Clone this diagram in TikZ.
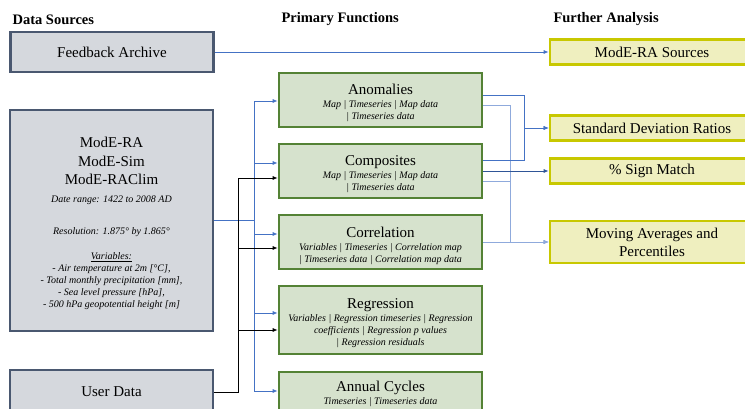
\documentclass[tikz,border=0pt]{standalone}
\usepackage{fontspec}
\setmainfont{Liberation Serif}
\usepackage{tikz}
\usetikzlibrary{arrows.meta,calc}

\definecolor{srcfill}{HTML}{D5D8DD}
\definecolor{srcline}{HTML}{4A5870}
\definecolor{fnfill}{HTML}{D6E2CD}
\definecolor{fnline}{HTML}{548235}
\definecolor{anfill}{HTML}{EFEFBF}
\definecolor{anline}{HTML}{C8C800}
\definecolor{arrblue}{HTML}{4472C4}
\definecolor{arrlight}{HTML}{8FAADC}
\definecolor{arrdark}{HTML}{2F5597}

\newcommand{\fntitle}[1]{{\upshape\fontsize{15}{18}\selectfont #1}}
\newcommand{\mdinfo}[1]{{\fontsize{10}{12}\selectfont\itshape #1}}
\newcommand{\toppad}[1]{\rule{0pt}{#1}}

\begin{document}
\begin{tikzpicture}[x=1pt,y=-1pt,
    header/.style={anchor=west,font=\bfseries\fontsize{14.5}{17}\selectfont},
    srcbox/.style={draw=srcline,fill=srcfill,line width=2.6pt,minimum width=203pt,align=center,font=\fontsize{15}{18}\selectfont},
    funcbox/.style={draw=fnline,fill=fnfill,line width=2.6pt,minimum width=203pt,align=center,inner sep=2pt,font=\fontsize{10}{12}\selectfont\itshape},
    anbox/.style={draw=anline,fill=anfill,line width=2.6pt,minimum width=204pt,align=center,font=\fontsize{15}{18}\selectfont},
    bluearr/.style={draw=arrblue,line width=0.8pt,-{Latex[length=5pt,width=4pt]}},
    lightarr/.style={draw=arrlight,line width=0.8pt,-{Latex[length=5pt,width=4pt]}},
    darkarr/.style={draw=arrdark,line width=0.8pt,-{Latex[length=5pt,width=4pt]}},
    blackarr/.style={draw=black,line width=0.8pt,-{Latex[length=5pt,width=4pt]}}]
  %画布大小
  \useasboundingbox (0,0) rectangle (745,409);
  %三列标题
  \node[header] (h1) at (9,19.5) {Data Sources};
  \node[header] (h2) at (278,19.5) {Primary Functions};
  \node[header] (h3) at (550,19.5) {Further Analysis};
  %数据来源
  \node[srcbox,minimum height=40pt] (fb) at (112,52) {Feedback Archive};
  \node[srcbox,minimum height=221pt] (mode) at (111.5,220.5) {\toppad{16.5pt}ModE-RA\\[0.5pt]ModE-Sim\\[0.5pt]ModE-RAClim\\[-0.5pt]
    \mdinfo{Date range: 1422 to 2008 AD}\\[14pt]
    \mdinfo{Resolution: 1.875° by 1.865°}\\[7pt]
    \mdinfo{\underline{Variables:}}\\[-6pt]
    \mdinfo{- Air temperature at 2m [°C],}\\[-6pt]
    \mdinfo{- Total monthly precipitation [mm],}\\[-6pt]
    \mdinfo{- Sea level pressure [hPa],}\\[-6pt]
    \mdinfo{- 500 hPa geopotential height [m]}};
  \node[srcbox,minimum height=44pt] (user) at (111.5,392) {User Data};
  %主要功能
  \node[funcbox,minimum height=54pt] (anom) at (380.5,100) {\toppad{16.5pt}\fntitle{Anomalies}\\[1pt]Map | Timeseries | Map data\\| Timeseries data};
  \node[funcbox,minimum height=54pt] (comp) at (380.5,171) {\toppad{16.5pt}\fntitle{Composites}\\[1pt]Map | Timeseries | Map data\\| Timeseries data};
  \node[funcbox,minimum height=54pt] (corr) at (380.5,242) {\toppad{18pt}\fntitle{Correlation}\\[1pt]Variables | Timeseries | Correlation map\\| Timeseries data | Correlation map data};
  \node[funcbox,minimum height=68pt] (regr) at (380.5,320) {\toppad{17pt}\fntitle{Regression}\\[1pt]Variables | Regression timeseries | Regression\\coefficients | Regression p values\\| Regression residuals};
  \node[funcbox,minimum height=42pt] (annual) at (380.5,393) {\toppad{13pt}\fntitle{Annual Cycles}\\[1pt]Timeseries | Timeseries data};
  %进一步分析
  \node[anbox,minimum height=25pt] (src) at (652,52) {ModE-RA Sources};
  \node[anbox,minimum height=25pt] (sdr) at (652,128) {Standard Deviation Ratios};
  \node[anbox,minimum height=25pt] (sign) at (652,171) {\% Sign Match};
  \node[anbox,minimum height=42pt] (ma) at (652,242) {Moving Averages and\\Percentiles};
  %连线用的转折点
  \coordinate (lbus) at (254,220.5);
  \coordinate (ubus) at (238,392);
  \coordinate (rbus) at (524,128);
  \coordinate (mbus) at (510,242);
  %左侧连线
  \draw[bluearr] (fb.east) -- (src.west);
  \draw[bluearr] (mode.east) -- (lbus) |- ([yshift=-1pt]anom.west);
  \draw[bluearr] (mode.east) -- (lbus) |- ([yshift=8pt]comp.west);
  \draw[bluearr] (mode.east) -- (lbus) |- ([yshift=8pt]corr.west);
  \draw[bluearr] (mode.east) -- (lbus) |- ([yshift=7pt]regr.west);
  \draw[bluearr] (mode.east) -- (lbus) |- ([yshift=2pt]annual.west);
  \draw[blackarr] (user.east) -- (ubus) |- ([yshift=-7pt]comp.west);
  \draw[blackarr] (user.east) -- (ubus) |- ([yshift=-6pt]corr.west);
  \draw[blackarr] (user.east) -- (ubus) |- ([yshift=-10pt]regr.west);
  %右侧连线
  \draw[lightarr] ([yshift=-5pt]anom.east) -| (mbus) -- (ma.west);
  \draw[lightarr] ([yshift=-10pt]comp.east) -| (mbus) -- (ma.west);
  \draw[lightarr] (corr.east) -- (ma.west);
  \draw[bluearr] ([yshift=5pt]anom.east) -| (rbus) -- (sdr.west);
  \draw[bluearr] ([yshift=11pt]comp.east) -| (rbus) -- (sdr.west);
  \draw[darkarr] (comp.east) -- (sign.west);
\end{tikzpicture}
\end{document}
